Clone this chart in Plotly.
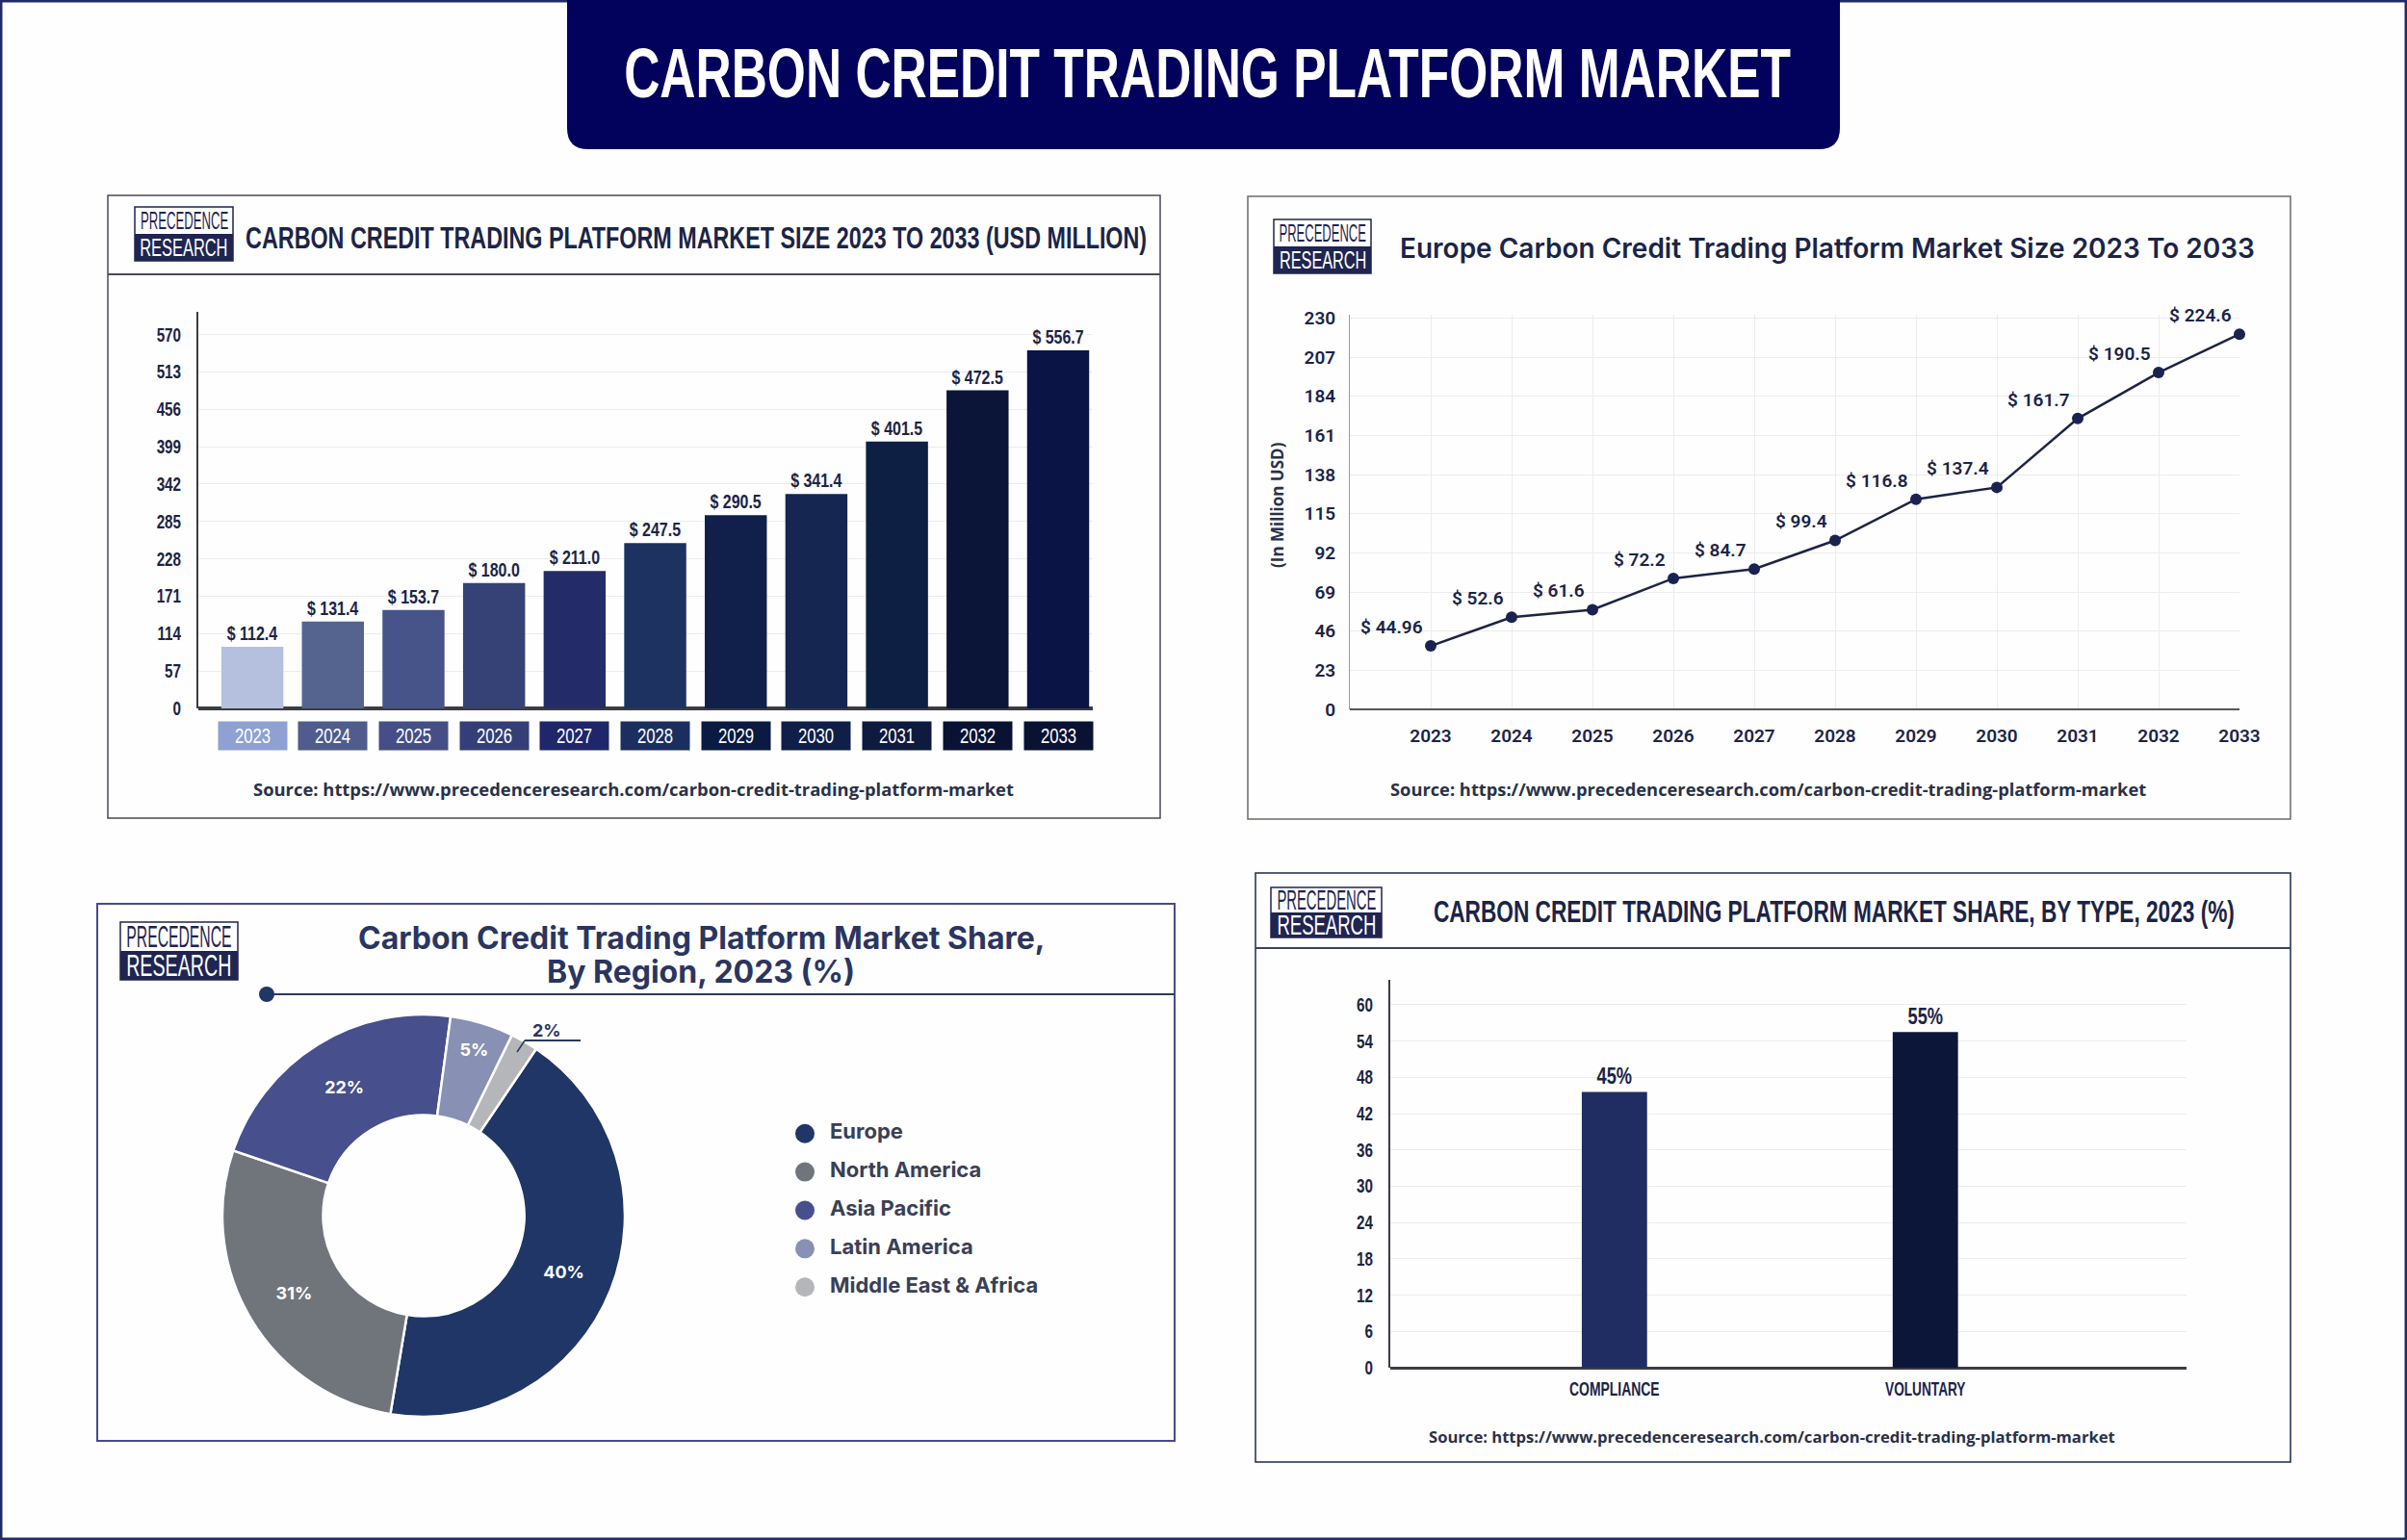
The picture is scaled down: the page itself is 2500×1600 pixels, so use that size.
"""
Carbon credit trading platform market: four panels on one page.
"""
import json
import plotly.graph_objects as go

W, H = 2500, 1600
NARROW = "Liberation Sans"  # no condensed face installed, squeezed in the page script below
SANS = "Roboto"
WIDE = "Inter"
NAVY = "#1b2447"
SOURCE = "Source: https://www.precedenceresearch.com/carbon-credit-trading-platform-market"
BANNER = "CARBON CREDIT TRADING PLATFORM MARKET"
TITLE_SIZE = "CARBON CREDIT TRADING PLATFORM MARKET SIZE 2023 TO 2033 (USD MILLION)"
TITLE_TYPE = "CARBON CREDIT TRADING PLATFORM MARKET SHARE, BY TYPE, 2023 (%)"

years = [2023, 2024, 2025, 2026, 2027, 2028, 2029, 2030, 2031, 2032, 2033]
size_heights = [94, 132.6, 150, 191, 209.5, 252, 294.5, 327, 407, 485, 546]
size_labels = ["$ 112.4", "$ 131.4", "$ 153.7", "$ 180.0", "$ 211.0", "$ 247.5",
               "$ 290.5", "$ 341.4", "$ 401.5", "$ 472.5", "$ 556.7"]
size_colors = ["#b4c0de", "#55648f", "#47548a", "#364276", "#232c68", "#1d3260",
               "#10204a", "#152650", "#0e1f44", "#0a1538", "#0a1545"]
chip_colors = ["#8fa1d3", "#4f5c8c", "#454f85", "#343f77", "#1f276a", "#1b2f5e",
               "#0a1a40", "#0f1f48", "#0e1a3e", "#0a1233", "#0a1233"]

europe_heights = [37.3, 54.2, 58.6, 77, 82.5, 99.3, 123.5, 130.5, 171, 198, 220.6]
europe_labels = ["$ 44.96", "$ 52.6", "$ 61.6", "$ 72.2", "$ 84.7", "$ 99.4",
                 "$ 116.8", "$ 137.4", "$ 161.7", "$ 190.5", "$ 224.6"]

regions = ["Europe", "North America", "Asia Pacific", "Latin America", "Middle East & Africa"]
region_sizes = [43.2, 27.6, 21.9, 5.1, 2.2]
region_labels = ["40%", "31%", "22%", "5%", ""]
region_colors = ["#1f3666", "#70757c", "#474f8c", "#8891b3", "#b4b6b9"]

types = ["COMPLIANCE", "VOLUNTARY"]
type_heights = [45.6, 55.5]
type_labels = ["45%", "55%"]
type_colors = ["#1f2d63", "#0b1638"]

# target width of the narrow texts, in em of their own font size
narrow_em = {
    BANNER: 16.6, TITLE_SIZE: 29.25, TITLE_TYPE: 26.0,
    "PRECEDENCE": 3.58, "RESEARCH": 3.58, "COMPLIANCE": 4.8, "VOLUNTARY": 4.28,
}


def px(x):
    return x / W


def py(y):
    return 1 - y / H


def dom_x(a, b):
    return [px(a), px(b)]


def dom_y(top, bottom):
    return [py(bottom), py(top)]


shapes = []
annotations = []


def rect(x0, y0, x1, y1, line=None, width=0, fill=None):
    shapes.append(dict(type="rect", xref="paper", yref="paper",
                       x0=px(x0), x1=px(x1), y0=py(y0), y1=py(y1),
                       line=dict(color=line, width=width) if line else dict(width=0),
                       fillcolor=fill or "rgba(0,0,0,0)"))


def seg(x0, y0, x1, y1, color, width):
    shapes.append(dict(type="line", xref="paper", yref="paper",
                       x0=px(x0), x1=px(x1), y0=py(y0), y1=py(y1),
                       line=dict(color=color, width=width)))


def note(text, x, y, size, color=NAVY, family=NARROW, weight=700, **kw):
    annotations.append(dict(text=text, x=px(x), y=py(y), xref="paper", yref="paper",
                            xanchor="center", yanchor="middle", showarrow=False,
                            font=dict(family=family, size=size, color=color, weight=weight), **kw))


def logo(x0, y0, x1, y1):
    mid = (y0 + y1) / 2
    rect(x0, y0, x1, y1, line="#1f2550", width=1.5, fill="#ffffff")
    rect(x0, mid, x1, y1, fill="#1f2550")
    size = (x1 - x0) * 0.25
    note("PRECEDENCE", (x0 + x1) / 2, (y0 + mid) / 2, size, color="#1f2550", weight=400)
    note("RESEARCH", (x0 + x1) / 2, (mid + y1) / 2, size, color="#ffffff", weight=400)


fig = go.Figure()

# page frame and top banner
rect(1, 1, W - 1, H - 1, line="#1f2a6b", width=3)
shapes.append(dict(
    type="path", xref="paper", yref="paper", fillcolor="#02025c", line=dict(width=0),
    path=(f"M {px(589)} {py(0)} L {px(589)} {py(133)} Q {px(589)} {py(155)} {px(611)} {py(155)} "
          f"L {px(1889)} {py(155)} Q {px(1911)} {py(155)} {px(1911)} {py(133)} L {px(1911)} {py(0)} Z"),
))
note(BANNER, 1254, 76, 73, color="#ffffff")

# panel 1: market size bars
rect(112, 203, 1205, 850, line="#4a4a55", width=1.5)
seg(112, 285, 1205, 285, "#4a4a55", 2)
logo(140, 215, 242, 271)
note(TITLE_SIZE, 723, 247, 32)
note(SOURCE, 658, 819, 18.4, family="Open Sans", color="#2a3148")

fig.add_trace(go.Bar(
    x=years, y=size_heights, width=0.77, marker=dict(color=size_colors, line=dict(width=0)),
    text=size_labels, textposition="outside", cliponaxis=False, constraintext="none",
    textfont=dict(family=NARROW, size=21, color=NAVY, weight=700),
    xaxis="x", yaxis="y", showlegend=False,
))
for year, color in zip(years, chip_colors):
    annotations.append(dict(
        text=str(year), x=year, y=py(764.5), xref="x", yref="paper", yanchor="middle",
        showarrow=False, width=69, height=27, bgcolor=color,
        font=dict(family=NARROW, size=22, color="#ffffff", weight=400),
    ))

# panel 2: Europe line
rect(1296, 204, 2379, 851, line="#6a6a72", width=1.5)
logo(1323, 228, 1424, 284)
note("Europe Carbon Credit Trading Platform Market Size 2023 To 2033", 1898, 258, 28, family=WIDE, weight=600)
note("(In Million USD)", 1326, 525, 17, family="Open Sans", textangle=-90, color="#2a3148")
note(SOURCE, 1836, 820, 18.3, family="Open Sans", color="#2a3148")

fig.add_trace(go.Scatter(
    x=years, y=europe_heights, mode="lines+markers+text", text=europe_labels,
    textposition="top left", cliponaxis=False,
    textfont=dict(family=SANS, size=19, color=NAVY, weight=600),
    line=dict(color="#1d2442", width=2.5), marker=dict(color="#1a2350", size=12),
    xaxis="x2", yaxis="y2", showlegend=False,
))

# panel 3: region donut
rect(101, 939, 1220, 1497, line="#4a4a8c", width=2)
logo(125, 958, 247, 1018)
note("Carbon Credit Trading Platform Market Share,", 728, 974, 32, family=WIDE, color="#2b3560")
note("By Region, 2023 (%)", 728, 1009, 32, family=WIDE, color="#2b3560")
seg(277, 1033, 1220, 1033, "#2c3a5a", 2)
shapes.append(dict(type="circle", xref="paper", yref="paper", x0=px(269), x1=px(285),
                   y0=py(1041), y1=py(1025), fillcolor="#1f3666", line=dict(width=0)))

fig.add_trace(go.Pie(
    labels=regions, values=region_sizes, text=region_labels, textinfo="text",
    textposition="inside", insidetextorientation="horizontal", hole=0.5, sort=False,
    direction="clockwise", rotation=34,
    marker=dict(colors=region_colors, line=dict(color="#ffffff", width=2.5)),
    textfont=dict(family=WIDE, size=18, color="#ffffff", weight=700),
    domain=dict(x=dom_x(231, 649), y=dom_y(1054, 1472)), showlegend=False,
))
note("2%", 568, 1070, 18, family=WIDE, color="#2b3560")
seg(545, 1081, 603, 1081, "#2c3a5a", 2)
seg(545, 1081, 537, 1093, "#2c3a5a", 1.5)

# legend of the donut, drawn as dots and names on a hidden axis
fig.add_trace(go.Scatter(
    x=[10] * len(regions), y=regions, mode="markers",
    marker=dict(color=region_colors, size=20), xaxis="x4", yaxis="y4", showlegend=False,
))
fig.add_trace(go.Scatter(
    x=[36] * len(regions), y=regions, mode="text", text=regions, textposition="middle right",
    textfont=dict(family=WIDE, size=22, color="#3a4055", weight=700),
    cliponaxis=False, xaxis="x4", yaxis="y4", showlegend=False,
))

# panel 4: share by type
rect(1304, 907, 2379, 1519, line="#1a2a50", width=1.5)
seg(1304, 985, 2379, 985, "#3a4258", 2)
logo(1320, 922, 1435, 974)
note(TITLE_TYPE, 1905, 947, 32)
note(SOURCE, 1840, 1492, 16.6, family="Open Sans", color="#2a3148")

fig.add_trace(go.Bar(
    x=types, y=type_heights, width=0.21, marker=dict(color=type_colors, line=dict(width=0)),
    text=type_labels, textposition="outside", cliponaxis=False, constraintext="none",
    textfont=dict(family=NARROW, size=24, color=NAVY, weight=700),
    xaxis="x3", yaxis="y3", showlegend=False,
))

tick_narrow = dict(family=NARROW, size=20, color=NAVY, weight=700)
tick_sans = dict(family=SANS, size=19, color=NAVY, weight=600)
grid = "#ececf0"

fig.update_layout(
    width=W, height=H, margin=dict(l=0, r=0, t=0, b=0, autoexpand=False), autosize=False,
    paper_bgcolor="#fefefe", plot_bgcolor="rgba(0,0,0,0)", showlegend=False,
    shapes=shapes, annotations=annotations,
    xaxis=dict(domain=dom_x(206, 1135), range=[2022.33, 2033.43], showticklabels=False,
               showgrid=False, zeroline=False, showline=False),
    yaxis=dict(domain=dom_y(324, 736), range=[0, 604.6], dtick=57, tick0=0, gridcolor=grid,
               zeroline=True, zerolinecolor="#3c3c46", zerolinewidth=4,
               showline=True, linecolor="#3c3c46", linewidth=2, anchor="x",
               tickfont=tick_narrow, ticklabelstandoff=12),
    xaxis2=dict(domain=dom_x(1402, 2326), range=[2022, 2033], tickmode="array", tickvals=years,
                gridcolor=grid, zeroline=False, showline=False, anchor="y2",
                tickfont=tick_sans, ticklabelstandoff=14),
    yaxis2=dict(domain=dom_y(327, 737), range=[0, 232], dtick=23, tick0=0, gridcolor=grid,
                zeroline=True, zerolinecolor="#55555f", zerolinewidth=2,
                showline=True, linecolor="#9a9aa2", linewidth=1, anchor="x2",
                tickfont=tick_sans, ticklabelstandoff=10),
    xaxis3=dict(domain=dom_x(1444, 2271), range=[-0.721, 1.84], type="category",
                showgrid=False, zeroline=False, showline=False, anchor="y3",
                tickfont=dict(family=NARROW, size=19.5, color=NAVY, weight=700), ticklabelstandoff=8),
    yaxis3=dict(domain=dom_y(1017.5, 1421), range=[0, 64.2], dtick=6, tick0=0, gridcolor=grid,
                zeroline=True, zerolinecolor="#3c3c46", zerolinewidth=3,
                showline=True, linecolor="#3c3c46", linewidth=2, anchor="x3",
                tickfont=tick_narrow, ticklabelstandoff=12),
    xaxis4=dict(domain=dom_x(826, 1100), range=[0, 274], visible=False, anchor="y4"),
    yaxis4=dict(domain=dom_y(1155, 1360), type="category", categoryorder="array",
                categoryarray=regions, autorange="reversed", visible=False, anchor="x4"),
)

# drop the page margin and squeeze the narrow texts to their width
page_script = """
document.body.style.margin = '0';
var em = %s;
document.querySelectorAll('svg text').forEach(function (t) {
    if (t.style.fontFamily.indexOf('Liberation Sans') < 0) return;
    var size = parseFloat(t.style.fontSize);
    var target = em[t.textContent] ? em[t.textContent] * size : t.getComputedTextLength() * 0.76;
    t.setAttribute('textLength', target);
    t.setAttribute('lengthAdjust', 'spacingAndGlyphs');
});
""" % json.dumps(narrow_em)

fig.write_html("out.html", config={"displayModeBar": False}, post_script=page_script)
